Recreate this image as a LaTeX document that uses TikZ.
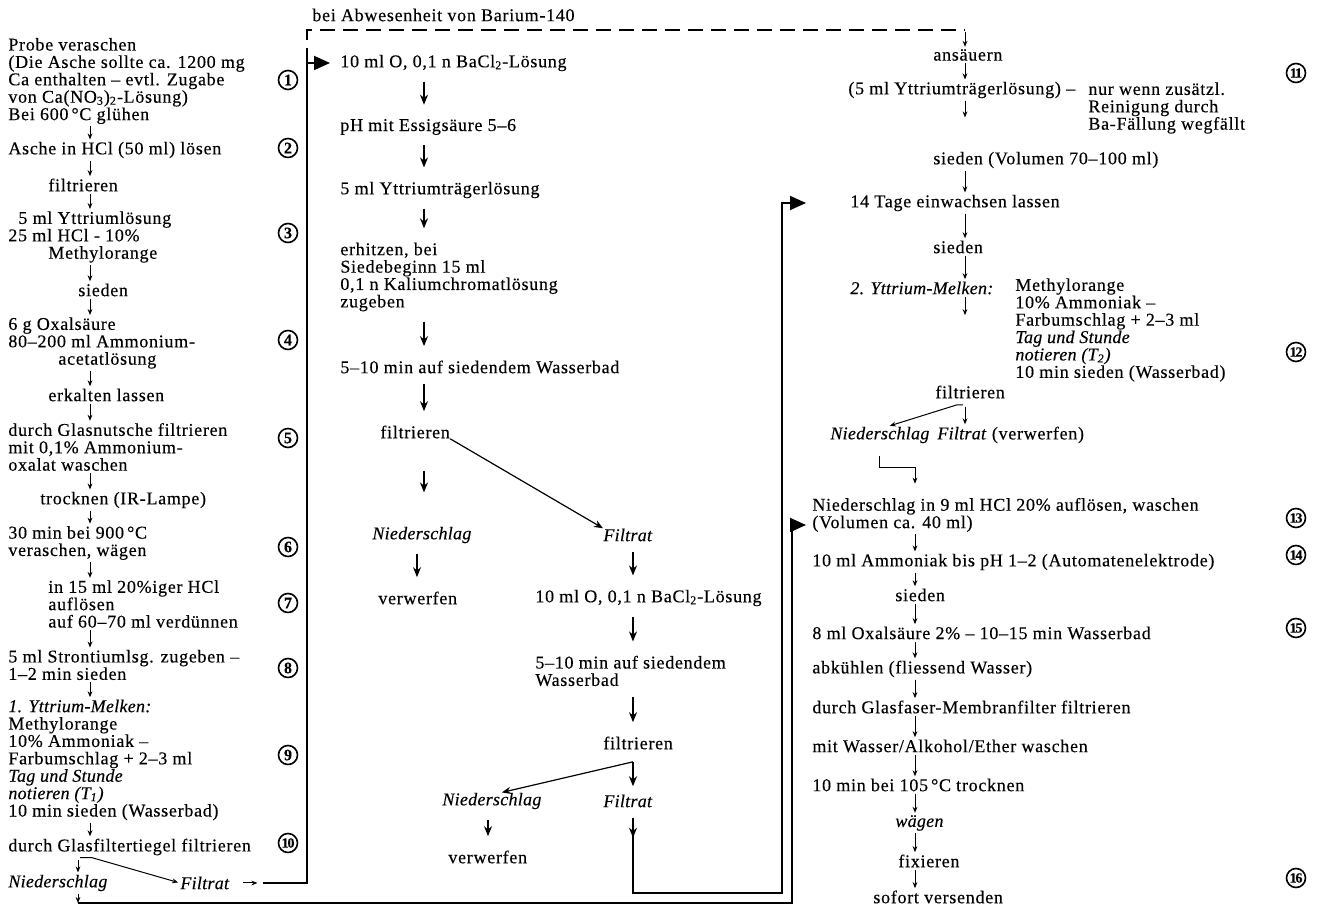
\documentclass[tikz,border=0pt]{standalone}
\usepackage{fontspec}
\setmainfont{Liberation Serif}[LetterSpace=4,FakeBold=0.3,ItalicFeatures={LetterSpace=1.5}]
\usetikzlibrary{arrows.meta,calc}

\begin{document}
\begin{tikzpicture}[x=.5pt,y=-.5pt,
  st/.style={anchor=west,align=left,inner sep=0pt,font=\fontsize{9}{8.7}\selectfont},
  it/.style={st,font=\fontsize{9}{8.7}\selectfont\itshape},
  num/.style={draw,circle,line width=.8pt,inner sep=0pt,minimum size=9.5pt,font=\fontsize{8}{8}\selectfont\bfseries},
  numb/.style={num,font=\fontsize{7}{7}\selectfont\bfseries\addfontfeature{LetterSpace=-8}},
  sarr/.style={line width=.5pt,-{Stealth[length=3pt,width=2.4pt]},shorten <=1pt,shorten >=1pt},
  marr/.style={line width=.7pt,-{Stealth[length=5pt,width=4pt]},shorten <=5pt,shorten >=7pt},
  darr/.style={line width=.6pt,-{Stealth[length=4.5pt,width=3.6pt]}},
  loopline/.style={line width=.9pt,-{Triangle[length=8pt,width=7pt]}},
  dashline/.style={line width=.7pt,dash pattern=on 7.5pt off 4pt}]
\useasboundingbox (0,0) rectangle (1319,908);

\coordinate (aL) at (90,0);   \coordinate (aL2) at (78,0);
\coordinate (aM) at (424,0);  \coordinate (aM2) at (417,0);
\coordinate (aM3) at (633,0); \coordinate (aM4) at (488,0);
\coordinate (aR) at (965,0);  \coordinate (aR2) at (915,0);
\coordinate (cA) at (307,63); \coordinate (dE) at (965,30);
\coordinate (cB) at (78,903); \coordinate (cC) at (792,525);
\coordinate (cD) at (782,893);

\node[st] (t0) at (312,15) {bei Abwesenheit von Barium-140};

% linke Spalte
\node[st] (p1) at (8,81) {Probe veraschen\\(Die Asche sollte ca. 1200 mg\\Ca enthalten – evtl. Zugabe\\von Ca(NO\textsubscript{3})\textsubscript{2}-Lösung)\\Bei 600\,°C glühen};
\node[st] (p2) at (8,150) {Asche in HCl (50 ml) lösen};
\node[st] (p3) at (48,185) {filtrieren};
\node[st] (p4) at (8,237) {\hspace*{5pt}5 ml Yttriumlösung\\25 ml HCl - 10\%\\\hspace*{20pt}Methylorange};
\node[st] (p5) at (78,290) {sieden};
\node[st] (p6) at (8,343) {6 g Oxalsäure\\80–200 ml Ammonium-\\\hspace*{25pt}acetatlösung};
\node[st] (p7) at (48,395) {erkalten lassen};
\node[st] (p8) at (8,447) {durch Glasnutsche filtrieren\\mit 0,1\% Ammonium-\\oxalat waschen};
\node[st] (p9) at (40,500) {trocknen (IR-Lampe)};
\node[st] (p10) at (8,543) {30 min bei 900\,°C\\veraschen, wägen};
\node[st] (p11) at (48,604) {in 15 ml 20\%iger HCl\\auflösen\\auf 60–70 ml verdünnen};
\node[st] (p12) at (8,665) {5 ml Strontiumlsg. zugeben –\\1–2 min sieden};
\node[st] (p13) at (8,760) {\textit{1. Yttrium-Melken:}\\Methylorange\\10\% Ammoniak –\\Farbumschlag + 2–3 ml\\\textit{Tag und Stunde}\\\textit{notieren (T\textsubscript{1})}\\10 min sieden (Wasserbad)};
\node[st] (p14) at (8,847) {durch Glasfiltertiegel filtrieren};
\node[it] (p15) at (8,883) {Niederschlag};
\node[it] (p16) at (180,883) {Filtrat};

\node[num] (no1) at (288,80) {1};
\node[num] (no2) at (288,148) {2};
\node[num] (no3) at (288,233) {3};
\node[num] (no4) at (288,340) {4};
\node[num] (no5) at (288,438) {5};
\node[num] (no6) at (288,547) {6};
\node[num] (no7) at (288,603) {7};
\node[num] (no8) at (288,668) {8};
\node[num] (no9) at (288,755) {9};
\node[numb] (no10) at (288,843) {10};

% mittlere Spalte
\node[st] (m1) at (340,63) {10 ml O, 0,1 n BaCl\textsubscript{2}-Lösung};
\node[st] (m2) at (340,127) {pH mit Essigsäure 5–6};
\node[st] (m3) at (340,190) {5 ml Yttriumträgerlösung};
\node[st] (m4) at (340,277) {erhitzen, bei\\Siedebeginn 15 ml\\0,1 n Kaliumchromatlösung\\zugeben};
\node[st] (m5) at (340,367) {5–10 min auf siedendem Wasserbad};
\node[st] (m6) at (380,432) {filtrieren};
\node[it] (m7) at (372,535) {Niederschlag};
\node[it] (m8) at (603,535) {Filtrat};
\node[st] (m9) at (378,598) {verwerfen};
\node[st] (m10) at (535,598) {10 ml O, 0,1 n BaCl\textsubscript{2}-Lösung};
\node[st] (m11) at (535,671) {5–10 min auf siedendem\\Wasserbad};
\node[st] (m12) at (603,743) {filtrieren};
\node[it] (m13) at (442,801) {Niederschlag};
\node[it] (m14) at (603,801) {Filtrat};
\node[st] (m15) at (448,857) {verwerfen};

% rechte Spalte
\node[st] (r1) at (933,55) {ansäuern};
\node[st] (r2) at (848,90) {(5 ml Yttriumträgerlösung) –};
\node[st] (r2n) at (1088,108) {nur wenn zusätzl.\\Reinigung durch\\Ba-Fällung wegfällt};
\node[st] (r3) at (933,160) {sieden (Volumen 70–100 ml)};
\node[st] (r6) at (850,203) {14 Tage einwachsen lassen};
\node[st] (r7) at (933,247) {sieden};
\node[it] (r8) at (850,288) {2. Yttrium-Melken:};
\node[st] (r9) at (1015,330) {Methylorange\\10\% Ammoniak –\\Farbumschlag + 2–3 ml\\\textit{Tag und Stunde}\\\textit{notieren (T\textsubscript{2})}\\10 min sieden (Wasserbad)};
\node[st] (r10) at (935,392) {filtrieren};
\node[it] (r11) at (830,435) {Niederschlag};
\node[st] (r12) at (937,435) {\textit{Filtrat} (verwerfen)};
\node[st] (r13) at (812,515) {Niederschlag in 9 ml HCl 20\% auflösen, waschen\\(Volumen ca. 40 ml)};
\node[st] (r14) at (812,562) {10 ml Ammoniak bis pH 1–2 (Automatenelektrode)};
\node[st] (r15) at (895,595) {sieden};
\node[st] (r16) at (812,633) {8 ml Oxalsäure 2\% – 10–15 min Wasserbad};
\node[st] (r17) at (812,669) {abkühlen (fliessend Wasser)};
\node[st] (r18) at (812,707) {durch Glasfaser-Membranfilter filtrieren};
\node[st] (r19) at (812,746) {mit Wasser/Alkohol/Ether waschen};
\node[st] (r20) at (812,785) {10 min bei 105\,°C trocknen};
\node[it] (r21) at (895,823) {wägen};
\node[st] (r22) at (898,861) {fixieren};
\node[st] (r23) at (873,897) {sofort versenden};

\node[numb] (no11) at (1296,73) {11};
\node[numb] (no12) at (1296,352) {12};
\node[numb] (no13) at (1296,518) {13};
\node[numb] (no14) at (1296,555) {14};
\node[numb] (no15) at (1296,628) {15};
\node[numb] (no16) at (1296,878) {16};

% Pfeile links
\draw[sarr] (p1.south -| aL) -- (p2.north -| aL);
\draw[sarr] (p2.south -| aL) -- (p3.north -| aL);
\draw[sarr] (p3.south -| aL) -- (p4.north -| aL);
\draw[sarr] (p4.south -| aL) -- (p5.north -| aL);
\draw[sarr] (p5.south -| aL) -- (p6.north -| aL);
\draw[sarr] (p6.south -| aL) -- (p7.north -| aL);
\draw[sarr] (p7.south -| aL) -- (p8.north -| aL);
\draw[sarr] (p8.south -| aL) -- (p9.north -| aL);
\draw[sarr] (p9.south -| aL) -- (p10.north -| aL);
\draw[sarr] (p10.south -| aL) -- (p11.north -| aL);
\draw[sarr] (p11.south -| aL) -- (p12.north -| aL);
\draw[sarr] (p12.south -| aL) -- (p13.north -| aL);
\draw[sarr] (p13.south -| aL) -- (p14.north -| aL);
\coordinate (s1) at ($(p14.south -| aL2)+(0,2)$);
\draw[sarr] (s1) -- (p15.north -| aL2);
\draw[sarr] (s1) -- ++(14,0) -- (p16.west);
\draw[sarr,shorten <=0pt] ([xshift=7pt]p16.east) -- ([xshift=15pt]p16.east);
\draw[loopline] ([xshift=17pt]p16.east) -| (cA) -- ([xshift=-5pt]m1.west);
\draw[dashline] (cA) |- (dE);
\draw[sarr] (dE) -- (r1.north -| aR);
\draw[sarr,shorten >=0pt] (p15.south -| aL2) -- (cB);
\draw[loopline] (cB) -| (cC) -- ($(r13.west |- cC)+(-6,0)$);

% Pfeile Mitte
\draw[marr] (m1.south -| aM) -- (m2.north -| aM);
\draw[marr] (m2.south -| aM) -- (m3.north -| aM);
\draw[marr] (m3.south -| aM) -- (m4.north -| aM);
\draw[marr] (m4.south -| aM) -- (m5.north -| aM);
\draw[marr] (m5.south -| aM) -- (m6.north -| aM);
\draw[marr,shorten <=16pt,shorten >=17pt] (m6.south -| aM) -- (m7.north -| aM);
\draw[darr] (m6.south east) -- (m8.north west);
\draw[marr] (m7.south -| aM2) -- (m9.north -| aM2);
\draw[marr] (m8.south -| aM3) -- (m10.north -| aM3);
\draw[marr] (m10.south -| aM3) -- (m11.north -| aM3);
\draw[marr] (m11.south -| aM3) -- (m12.north -| aM3);
\coordinate (s2) at ($(m12.south -| aM3)+(0,12)$);
\draw[marr,shorten <=0pt,shorten >=4pt] (s2) -- (m14.north -| aM3);
\draw[darr] (s2) -- ([xshift=5pt]m13.north);
\draw[marr] (m13.south -| aM4) -- (m15.north -| aM4);
\draw[marr] (m14.south -| aM3) -- ++(0,44);
\draw[loopline] ($(m14.south -| aM3)+(0,10)$) |- (cD) |- ($(r6.west)+(-44,0)$);

% Pfeile rechts
\draw[sarr] (r1.south -| aR) -- (r2.north -| aR);
\draw[sarr,shorten >=17pt] (r2.south -| aR) -- (r3.north -| aR);
\draw[sarr] (r3.south -| aR) -- (r6.north -| aR);
\draw[sarr] (r6.south -| aR) -- (r7.north -| aR);
\draw[sarr] (r7.south -| aR) -- (r8.north -| aR);
\draw[sarr,shorten >=35pt] (r8.south -| aR) -- (r10.north -| aR);
\coordinate (s3) at ($(r10.south -| aR)+(0,6)$);
\draw[sarr] (s3) -- (r12.north -| aR);
\draw[sarr] (s3) -- ++(-8,0) -- ([xshift=4pt]r11.north);
\draw[sarr,shorten >=7pt] ($(r11.south)+(0,10)$) -- ++(0,14) -| (r13.north -| aR2);
\draw[sarr] (r13.south -| aR2) -- (r14.north -| aR2);
\draw[sarr] (r14.south -| aR2) -- (r15.north -| aR2);
\draw[sarr] (r15.south -| aR2) -- (r16.north -| aR2);
\draw[sarr] (r16.south -| aR2) -- (r17.north -| aR2);
\draw[sarr] (r17.south -| aR2) -- (r18.north -| aR2);
\draw[sarr] (r18.south -| aR2) -- (r19.north -| aR2);
\draw[sarr] (r19.south -| aR2) -- (r20.north -| aR2);
\draw[sarr] (r20.south -| aR2) -- (r21.north -| aR2);
\draw[sarr] (r21.south -| aR2) -- (r22.north -| aR2);
\draw[sarr] (r22.south -| aR2) -- (r23.north -| aR2);
\end{tikzpicture}
\end{document}
